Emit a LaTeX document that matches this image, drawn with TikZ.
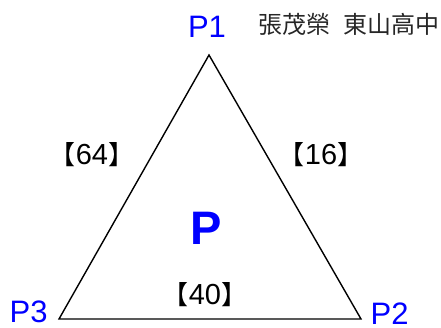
\documentclass[tikz,border=0pt]{standalone}
\usepackage{fontspec}
\setmainfont{Liberation Sans}
\newfontfamily\cjkfont{Noto Sans CJK TC}
\definecolor{pblue}{RGB}{0,0,255}
\newcommand{\lbk}{{\cjkfont\fontsize{26}{26}\selectfont 【}}
\newcommand{\rbk}{{\cjkfont\fontsize{26}{26}\selectfont 】}}
\begin{document}
\begin{tikzpicture}[x=1pt,y=-1pt,
  vlabel/.style={text=pblue,font=\fontsize{31}{31}\selectfont,inner sep=0pt,text depth=0pt},
  wlabel/.style={font=\fontsize{29}{29}\selectfont,inner sep=0pt},
  edge/.style={draw=black,line width=1.4pt,line join=miter}]
\useasboundingbox (0,0) rectangle (441,327);
\coordinate (A) at (209,55);
\coordinate (B) at (361,319);
\coordinate (C) at (59,319);
\draw[edge] (A) -- (B) -- (C) -- cycle;
\node[vlabel,anchor=base] (p1) at (207,37) {P1};
\node[vlabel,anchor=base west] (p2) at (370.5,324) {P2};
\node[vlabel,anchor=base west] (p3) at (9.5,322.5) {P3};
\node[text=pblue,font=\fontsize{47}{47}\selectfont\bfseries,inner sep=0pt] (p) at (206,228) {P};
\node[wlabel] (w64) at (92,155) {\lbk 64\rbk};
\node[wlabel] (w16) at (321,155) {\lbk 16\rbk};
\node[wlabel] (w40) at (205,295) {\lbk 40\rbk};
\node[font=\cjkfont\fontsize{24}{24}\selectfont,text=black!85,inner sep=0pt] (name) at (349,24) {張茂榮\hspace{13pt}東山高中};
\end{tikzpicture}
\end{document}
